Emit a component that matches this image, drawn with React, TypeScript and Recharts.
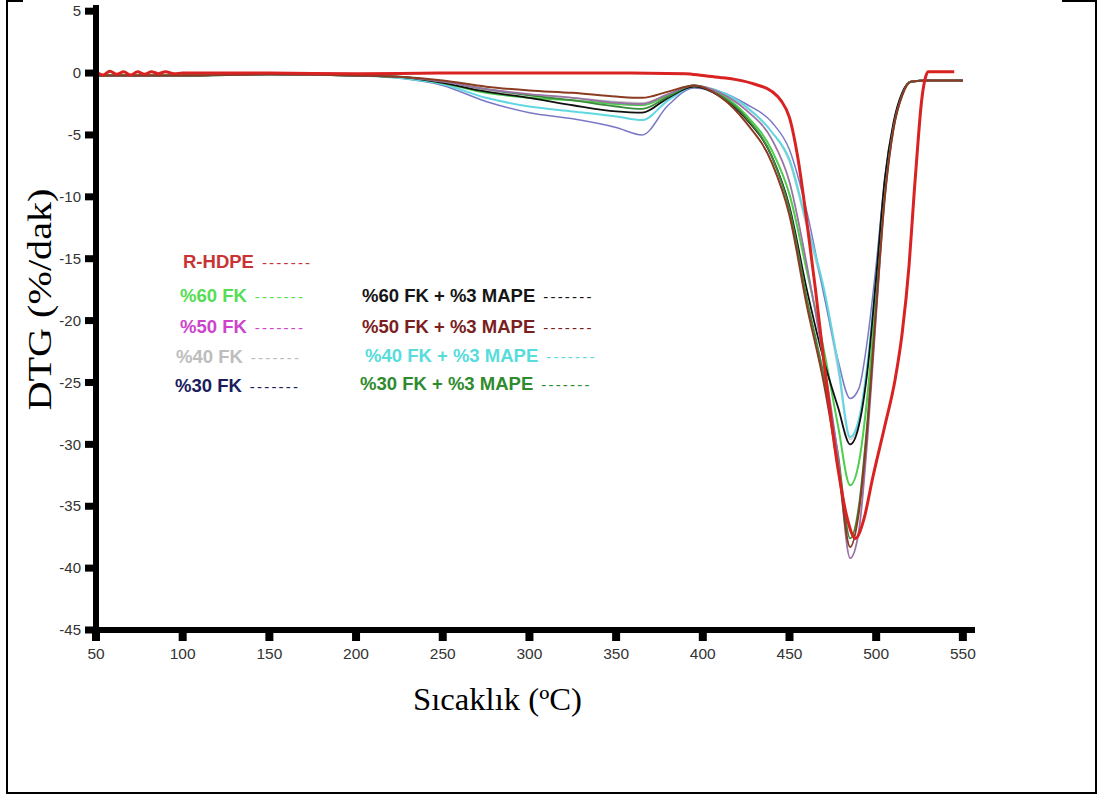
import React from 'react';
import { LineChart, Line, XAxis, YAxis } from 'recharts';

// temperature grid (°C) shared by the filled samples
const tempGrid = [50, 100, 150, 200, 225, 250, 275, 300, 325, 350, 365, 380, 395, 410, 425, 440, 450, 460, 470, 478, 485, 490, 495, 500, 505, 510, 515, 520, 530, 550];

// DTG (%/dak) per sample
const fk60 = [-0.2, -0.2, -0.1, -0.2, -0.3, -0.8, -1.6, -2.0, -2.2, -2.5, -2.6, -1.8, -1.0, -1.7, -3.4, -6.3, -9.8, -16.0, -22.5, -28.5, -33.3, -31.5, -26.0, -18.0, -9.5, -4.3, -1.7, -0.7, -0.6, -0.6];
const fk50 = [-0.2, -0.2, -0.1, -0.2, -0.3, -0.7, -1.3, -1.7, -2.0, -2.4, -2.5, -1.7, -1.0, -1.6, -3.0, -5.4, -8.8, -15.5, -23.5, -31.0, -39.2, -37.0, -29.5, -19.5, -10.0, -4.5, -1.8, -0.7, -0.6, -0.6];
const fk40 = [-0.2, -0.2, -0.1, -0.2, -0.3, -0.7, -1.4, -1.8, -2.0, -2.3, -2.4, -1.7, -1.0, -1.5, -2.8, -4.8, -7.2, -12.5, -18.0, -24.0, -29.6, -28.2, -23.6, -16.5, -9.0, -4.2, -1.7, -0.7, -0.6, -0.6];
const fk30 = [-0.2, -0.2, -0.1, -0.2, -0.4, -1.0, -2.3, -3.2, -3.7, -4.4, -5.0, -2.6, -1.2, -1.5, -2.5, -4.0, -6.2, -11.2, -18.0, -23.2, -26.3, -25.5, -21.5, -15.5, -8.5, -4.0, -1.6, -0.7, -0.6, -0.6];
const fk60Mape = [-0.2, -0.2, -0.1, -0.2, -0.3, -0.8, -1.5, -2.0, -2.6, -3.1, -3.2, -2.0, -1.1, -1.9, -3.7, -6.8, -10.8, -17.5, -23.3, -27.0, -30.0, -28.5, -24.0, -16.5, -8.5, -4.0, -1.6, -0.7, -0.6, -0.6];
const fk50Mape = [-0.2, -0.2, -0.1, -0.2, -0.3, -0.6, -1.1, -1.4, -1.6, -1.9, -2.0, -1.5, -1.0, -1.9, -4.0, -7.3, -11.5, -18.8, -25.2, -31.8, -38.3, -35.5, -28.5, -19.0, -10.0, -4.5, -1.8, -0.7, -0.6, -0.6];
const fk40Mape = [-0.2, -0.2, -0.1, -0.2, -0.4, -0.9, -2.0, -2.7, -3.1, -3.5, -3.8, -2.2, -1.1, -1.5, -2.7, -4.8, -7.0, -12.2, -17.5, -23.5, -29.4, -28.0, -23.5, -16.5, -9.0, -4.2, -1.7, -0.7, -0.6, -0.6];
const fk30Mape = [-0.2, -0.2, -0.1, -0.2, -0.3, -0.7, -1.3, -1.8, -2.2, -2.7, -2.9, -1.9, -1.0, -1.8, -3.6, -6.8, -11.0, -18.2, -24.6, -30.8, -37.6, -35.0, -28.0, -18.8, -9.8, -4.4, -1.8, -0.7, -0.6, -0.6];

// unfilled R-HDPE has its own temperatures
const rHdpeTemps = [50, 54, 58, 62, 66, 70, 74, 78, 82, 86, 90, 95, 100, 150, 200, 250, 300, 350, 390, 400, 410, 420, 430, 440, 445, 450, 455, 460, 465, 470, 478, 483, 488, 493, 498, 505, 511, 515, 519, 522, 524, 526, 528, 530, 545];
const rHdpe = [0.1, -0.15, 0.15, -0.1, 0.1, -0.15, 0.1, -0.1, 0.1, -0.05, 0.1, -0.05, 0.0, 0.0, -0.05, 0.0, 0.0, 0.0, -0.05, -0.2, -0.35, -0.55, -0.9, -1.5, -2.2, -3.6, -7.0, -12.0, -17.5, -23.5, -32.0, -35.8, -37.6, -36.0, -32.7, -28.5, -24.7, -21.0, -15.5, -9.5, -5.8, -2.5, -0.6, 0.1, 0.1];

const xTicks = [50, 100, 150, 200, 250, 300, 350, 400, 450, 500, 550];
const yTicks = [5, 0, -5, -10, -15, -20, -25, -30, -35, -40, -45];

const toPoints = (temps: number[], vals: number[]) => temps.map((t, i) => ({ t, v: vals[i] }));

// drawing order: last one on top
const series = [
  { name: '%40 FK', data: toPoints(tempGrid, fk40), color: '#c9c9c9', width: 1.5 },
  { name: '%30 FK', data: toPoints(tempGrid, fk30), color: '#7a78c6', width: 1.5 },
  { name: '%40 FK + %3 MAPE', data: toPoints(tempGrid, fk40Mape), color: '#5fd8e2', width: 2 },
  { name: '%60 FK', data: toPoints(tempGrid, fk60), color: '#4ccd4c', width: 2 },
  { name: '%60 FK + %3 MAPE', data: toPoints(tempGrid, fk60Mape), color: '#111111', width: 1.8 },
  { name: '%30 FK + %3 MAPE', data: toPoints(tempGrid, fk30Mape), color: '#3c8a3c', width: 1.8 },
  { name: '%50 FK', data: toPoints(tempGrid, fk50), color: '#9a72a6', width: 1.8 },
  { name: '%50 FK + %3 MAPE', data: toPoints(tempGrid, fk50Mape), color: '#8a3b22', width: 2 },
  { name: 'R-HDPE', data: toPoints(rHdpeTemps, rHdpe), color: '#d92222', width: 3 },
];

const legendNames = ['R-HDPE', '%60 FK', '%50 FK', '%40 FK', '%30 FK', '%60 FK + %3 MAPE', '%50 FK + %3 MAPE', '%40 FK + %3 MAPE', '%30 FK + %3 MAPE'];

// legend styling / placement (kept apart from the data)
const legendLayout: Record<string, { left: number; top: number; color: string }> = {
  'R-HDPE': { left: 183, top: 262, color: '#c93333' },
  '%60 FK': { left: 180, top: 296, color: '#55dd55' },
  '%50 FK': { left: 180, top: 327, color: '#cc44cc' },
  '%40 FK': { left: 176, top: 357, color: '#bdbdbd' },
  '%30 FK': { left: 175, top: 386, color: '#1c1c5e' },
  '%60 FK + %3 MAPE': { left: 362, top: 296, color: '#151515' },
  '%50 FK + %3 MAPE': { left: 362, top: 327, color: '#7a2020' },
  '%40 FK + %3 MAPE': { left: 365, top: 356, color: '#58dcdc' },
  '%30 FK + %3 MAPE': { left: 360, top: 384, color: '#2e8b2e' },
};

const sans = '"Liberation Sans", Arial, sans-serif';
const serif = '"Liberation Serif", "Times New Roman", serif';
const TICK_SIZE = 11;
const TICK_MARGIN = 7;

function XTick(props: any) {
  const { x, y, payload } = props;
  const axisY = y - TICK_MARGIN - TICK_SIZE;
  return (
    <g>
      <rect x={x - 4} y={axisY} width={8} height={TICK_SIZE} fill="#000" />
      <text x={x} y={y} dy="0.71em" textAnchor="middle" fontFamily={sans} fontSize={15.5} fill="#333">
        {payload.value}
      </text>
    </g>
  );
}

function YTick(props: any) {
  const { x, y, payload } = props;
  const axisX = x + 4 + TICK_SIZE;
  return (
    <g>
      <rect x={axisX - TICK_SIZE} y={y - 3.5} width={TICK_SIZE} height={7} fill="#000" />
      <text x={x} y={y} dy="0.35em" textAnchor="end" fontFamily={sans} fontSize={15} fill="#333">
        {payload.value}
      </text>
    </g>
  );
}

function YTitle(props: any) {
  const vb = props.viewBox || { x: 0, y: 5, width: 96, height: 625 };
  const cx = vb.x + 40;
  const cy = vb.y + vb.height / 2 - 18;
  return (
    <text x={cx} y={cy} transform={`rotate(-90 ${cx} ${cy})`} textAnchor="middle" dominantBaseline="central"
      fontFamily={serif} fontSize={33} fill="#000" textLength={222} lengthAdjust="spacingAndGlyphs">
      DTG (%/dak)
    </text>
  );
}

function XTitle(props: any) {
  const vb = props.viewBox || { x: 96, y: 630, width: 879, height: 100 };
  return (
    <text x={vb.x + vb.width / 2 - 38} y={vb.y + 80} textAnchor="middle" fontFamily={serif} fontSize={31} fill="#000"
      textLength={169} lengthAdjust="spacingAndGlyphs">
      Sıcaklık (ºC)
    </text>
  );
}

export default function App() {
  return (
    <div style={{ position: 'absolute', left: 0, top: 0, width: 1103, height: 796, background: '#fff', overflow: 'hidden' }}>
      {/* page frame */}
      <div style={{ position: 'absolute', left: 6, top: 0, width: 2, height: 794, background: '#000' }} />
      <div style={{ position: 'absolute', left: 6, top: 0, width: 17, height: 2, background: '#000' }} />
      <div style={{ position: 'absolute', left: 1062, top: 0, width: 35, height: 2, background: '#000' }} />
      <div style={{ position: 'absolute', left: 1095, top: 0, width: 2, height: 794, background: '#000' }} />
      <div style={{ position: 'absolute', left: 6, top: 792, width: 1091, height: 2, background: '#000' }} />

      <div style={{ position: 'absolute', left: 0, top: 0 }}>
        <LineChart width={1103} height={796} margin={{ top: 5, right: 128, bottom: 66, left: 0 }}>
          <XAxis
            dataKey="t"
            type="number"
            domain={[50, 557]}
            ticks={xTicks}
            allowDataOverflow
            height={100}
            axisLine={{ stroke: '#000', strokeWidth: 6 }}
            tickLine={false}
            tickSize={TICK_SIZE}
            tickMargin={TICK_MARGIN}
            tick={XTick}
            label={XTitle}
          />
          <YAxis
            dataKey="v"
            type="number"
            domain={[-45, 5.5]}
            ticks={yTicks}
            allowDataOverflow
            width={96}
            axisLine={{ stroke: '#000', strokeWidth: 6 }}
            tickLine={false}
            tickSize={TICK_SIZE}
            tickMargin={4}
            tick={YTick}
            label={YTitle}
          />
          {series.map((s) => (
            <Line
              key={s.name}
              data={s.data}
              dataKey="v"
              name={s.name}
              type="monotone"
              stroke={s.color}
              strokeWidth={s.width}
              dot={false}
              activeDot={false}
              isAnimationActive={false}
            />
          ))}
        </LineChart>
      </div>

      {/* legend written inside the plot */}
      {legendNames.map((n) => {
        const l = legendLayout[n];
        return (
          <div key={n} style={{ position: 'absolute', left: l.left, top: l.top - 11, whiteSpace: 'nowrap', fontFamily: sans, fontSize: 18.5, lineHeight: '22px', color: l.color }}>
            <span style={{ fontWeight: 'bold' }}>{n}</span>
            <span style={{ fontSize: 15, letterSpacing: 2.2, marginLeft: 8 }}>-------</span>
          </div>
        );
      })}
    </div>
  );
}
